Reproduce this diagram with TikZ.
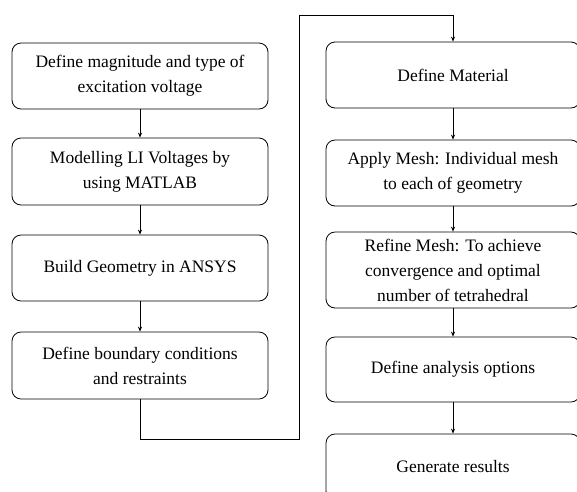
\documentclass[tikz,border=0pt]{standalone}
\usepackage{fontspec}
\setmainfont{Liberation Serif}
\usetikzlibrary{arrows.meta}
\begin{document}
\begin{tikzpicture}[x=1pt,y=-1pt,
  box/.style={draw, line width=0.8pt, rounded corners=9pt, align=center,
    inner sep=0pt, font=\fontsize{17.5}{25}\selectfont},
  lbox/.style={box, minimum width=256pt},
  rbox/.style={box, minimum width=254pt},
  conn/.style={line width=0.8pt, -{Stealth[length=5pt,width=4pt]}}]
\useasboundingbox (0,0) rectangle (577,491);
\node[lbox, minimum height=66pt] (a1) at (140,76) {Define magnitude and type of\\excitation voltage};
\node[lbox, minimum height=67pt] (a2) at (140,171.5) {Modelling LI Voltages by\\using MATLAB};
\node[lbox, minimum height=66pt] (a3) at (140,268) {Build Geometry in ANSYS};
\node[lbox, minimum height=67pt] (a4) at (140,365.5) {Define boundary conditions\\and restraints};
\node[rbox, minimum height=66pt] (b1) at (453,75) {Define Material};
\node[rbox, minimum height=66pt] (b2) at (453,173) {Apply Mesh: Individual mesh\\to each of geometry};
\node[rbox, minimum height=76pt] (b3) at (453,270) {Refine Mesh: To achieve\\convergence and optimal\\number of tetrahedral};
\node[rbox, minimum height=65pt] (b4) at (453,369.5) {Define analysis options};
\node[rbox, minimum height=66pt] (b5) at (453,467) {Generate results};
\coordinate (c1) at (140,439);
\coordinate (c2) at (299,439);
\coordinate (c3) at (299,15);
\coordinate (c4) at (453,15);
\draw[conn] (a1) -- (a2);
\draw[conn] (a2) -- (a3);
\draw[conn] (a3) -- (a4);
\draw[conn] (a4.south) -- (c1) -- (c2) -- (c3) -- (c4) -- (b1.north);
\draw[conn] (b1) -- (b2);
\draw[conn] (b2) -- (b3);
\draw[conn] (b3) -- (b4);
\draw[conn] (b4) -- (b5);
\end{tikzpicture}
\end{document}
